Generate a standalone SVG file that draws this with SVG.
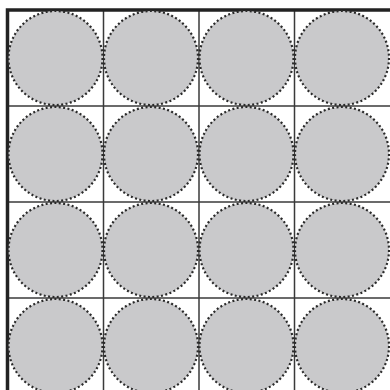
<svg xmlns="http://www.w3.org/2000/svg" width="390" height="390" viewBox="0 0 390 390">
<style>
.grid{stroke:#3a3a3a;stroke-width:1.5;fill:none}
.border{stroke:#222;stroke-width:3.5;fill:none}
.c{fill:#c9c9cb;stroke:#2a2a2a;stroke-width:2.2;stroke-dasharray:2 2.4}
</style>
<rect width="390" height="390" fill="#fff"/>
<g id="grid">
<line class="grid" x1="103.5" y1="10" x2="103.5" y2="390"/>
<line class="grid" x1="199" y1="10" x2="199" y2="390"/>
<line class="grid" x1="294.5" y1="10" x2="294.5" y2="390"/>
<line class="grid" x1="7.5" y1="106" x2="390" y2="106"/>
<line class="grid" x1="7.5" y1="202" x2="390" y2="202"/>
<line class="grid" x1="7.5" y1="298" x2="390" y2="298"/>
<polyline class="border" points="7.5,390 7.5,10 390,10"/>
</g>
<g id="circles">
<circle id="c11" class="c" cx="55.5" cy="58" r="47"/>
<circle id="c12" class="c" cx="151" cy="58" r="47"/>
<circle id="c13" class="c" cx="246.5" cy="58" r="47"/>
<circle id="c14" class="c" cx="342" cy="58" r="47"/>
<circle id="c21" class="c" cx="55.5" cy="154" r="47"/>
<circle id="c22" class="c" cx="151" cy="154" r="47"/>
<circle id="c23" class="c" cx="246.5" cy="154" r="47"/>
<circle id="c24" class="c" cx="342" cy="154" r="47"/>
<circle id="c31" class="c" cx="55.5" cy="250" r="47"/>
<circle id="c32" class="c" cx="151" cy="250" r="47"/>
<circle id="c33" class="c" cx="246.5" cy="250" r="47"/>
<circle id="c34" class="c" cx="342" cy="250" r="47"/>
<circle id="c41" class="c" cx="55.5" cy="346" r="47"/>
<circle id="c42" class="c" cx="151" cy="346" r="47"/>
<circle id="c43" class="c" cx="246.5" cy="346" r="47"/>
<circle id="c44" class="c" cx="342" cy="346" r="47"/>
</g>
</svg>
